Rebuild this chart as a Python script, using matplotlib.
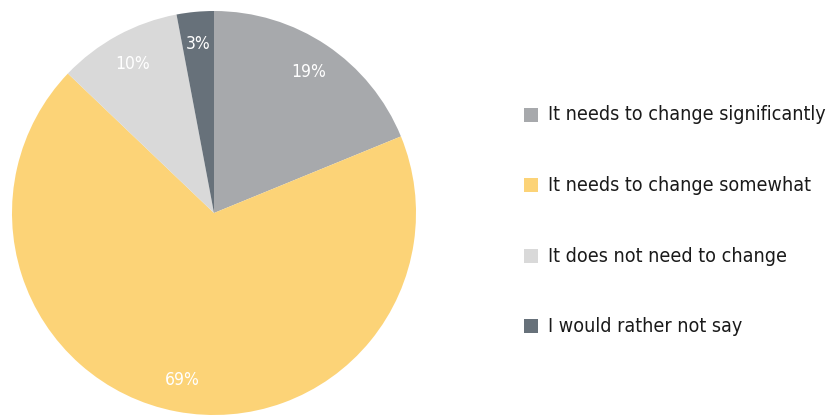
import matplotlib
matplotlib.use("Agg")
import matplotlib.pyplot as plt
from matplotlib.patches import Rectangle

categories = ["It needs to change significantly", "It needs to change somewhat",
              "It does not need to change", "I would rather not say"]
values = [19, 69, 10, 3]
colors = ["#a7a9ac", "#fcd377", "#d9d9d9", "#67717a"]

plt.rcParams['font.family'] = ['DejaVu Sans']

W, H = 835, 415
fig = plt.figure(figsize=(W/100, H/100), dpi=100)
cx, cy, r = 214, 213, 202
ax = fig.add_axes([(cx - r)/W, (H - cy - r)/H, 2*r/W, 2*r/H])
total = sum(values)
wedges, texts, autotexts = ax.pie(values, colors=colors, startangle=90, counterclock=False,
                                  radius=1, autopct=lambda p: f'{round(p*total/100)}%',
                                  pctdistance=0.84,
                                  wedgeprops=dict(linewidth=0),
                                  textprops=dict(color='white', fontsize=12.5,
                                                 fontstretch='condensed'))
ax.set_xlim(-1, 1)
ax.set_ylim(-1, 1)
ax.set_aspect('equal')
ax.axis('off')

rows = [115, 185, 256, 326]
tx = []
for cat, col, y in zip(categories, colors, rows):
    fig.patches.append(Rectangle(((524)/W, (H - y - 7)/H), 14/W, 14/H,
                                 transform=fig.transFigure, facecolor=col, edgecolor='none'))
    tx.append(fig.text(548/W, (H - y)/H, cat, fontsize=14.5, color='#1a1a1a',
                       va='center', ha='left', fontstretch='condensed'))

# fit the longest label to the reference width (~277 px)
fig.canvas.draw()
rend = fig.canvas.get_renderer()
w0 = tx[0].get_window_extent(rend).width
fs = min(14.5, 14.5 * 277 / w0)
for t in tx:
    t.set_fontsize(fs)
for t in autotexts:
    t.set_fontsize(min(12.5, 12.5 * 277 / w0 * 1.05))

fig.savefig("out.png", dpi=100)
